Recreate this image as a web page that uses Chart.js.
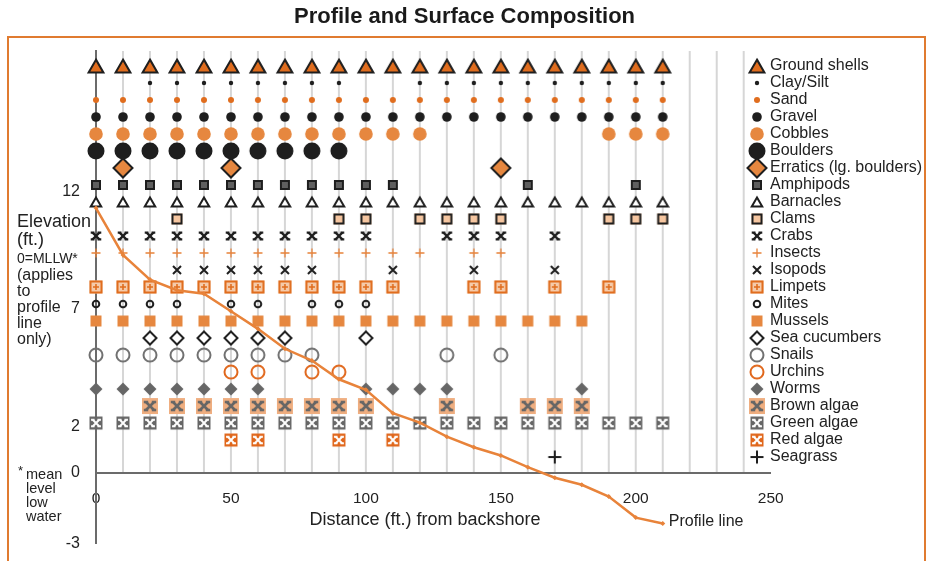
<!DOCTYPE html>
<html>
<head>
<meta charset="utf-8">
<script src="https://cdn.jsdelivr.net/npm/chart.js@4.4.1/dist/chart.umd.min.js"></script>
<style>
  html, body { margin: 0; padding: 0; background: #fff; }
  #wrap { position: relative; width: 929px; height: 561px; overflow: hidden; }
  #chart { position: absolute; left: 0; top: 0; }
  #frame { position: absolute; left: 7px; top: 36px; width: 919px; height: 600px; box-sizing: border-box; border: 2px solid #e07b30; pointer-events: none; }
  #title { position: absolute; left: 0; top: 3px; width: 929px; text-align: center; font: bold 22px "Liberation Sans", Arial, sans-serif; color: #1a1a1a; }
</style>
</head>
<body>
<div id="wrap">
  <canvas id="chart" width="929" height="561"></canvas>
  <div id="frame"></div>
  <div id="title">Profile and Surface Composition</div>
</div>
<script>
// profile line
const distances = [0, 10, 20, 30, 40, 50, 60, 70, 80, 90, 100, 110, 120, 130, 140, 150, 160, 170, 180, 190, 200, 210];
const profileElevation = [11.3, 9.3, 8.25, 7.8, 7.65, 6.9, 6.15, 5.3, 4.8, 4.0, 3.55, 2.55, 2.15, 1.55, 1.1, 0.75, 0.25, -0.2, -0.5, -1.0, -1.9, -2.15];
const elevationTicks = [-3, 0, 2, 7, 12];

// where each thing was found (distance in ft.)
const groundShells = [0, 10, 20, 30, 40, 50, 60, 70, 80, 90, 100, 110, 120, 130, 140, 150, 160, 170, 180, 190, 200, 210];
const claySilt = [20, 30, 40, 50, 60, 70, 80, 90, 120, 130, 140, 150, 160, 170, 180, 190, 200, 210];
const sand = [0, 10, 20, 30, 40, 50, 60, 70, 80, 90, 100, 110, 120, 130, 140, 150, 160, 170, 180, 190, 200, 210];
const gravel = [0, 10, 20, 30, 40, 50, 60, 70, 80, 90, 100, 110, 120, 130, 140, 150, 160, 170, 180, 190, 200, 210];
const cobbles = [0, 10, 20, 30, 40, 50, 60, 70, 80, 90, 100, 110, 120, 190, 200, 210];
const boulders = [0, 10, 20, 30, 40, 50, 60, 70, 80, 90];
const erratics = [10, 50, 150];
const amphipods = [0, 10, 20, 30, 40, 50, 60, 70, 80, 90, 100, 110, 160, 200];
const barnacles = [0, 10, 20, 30, 40, 50, 60, 70, 80, 90, 100, 110, 120, 130, 140, 150, 160, 170, 180, 190, 200, 210];
const clams = [30, 90, 100, 120, 130, 140, 150, 190, 200, 210];
const crabs = [0, 10, 20, 30, 40, 50, 60, 70, 80, 90, 100, 130, 140, 150, 170];
const insects = [0, 10, 20, 30, 40, 50, 60, 70, 80, 90, 100, 110, 120, 140, 150];
const isopods = [30, 40, 50, 60, 70, 80, 110, 140, 170];
const limpets = [0, 10, 20, 30, 40, 50, 60, 70, 80, 90, 100, 110, 140, 150, 170, 190];
const mites = [0, 10, 20, 30, 50, 60, 80, 90, 100];
const mussels = [0, 10, 20, 30, 40, 50, 60, 70, 80, 90, 100, 110, 120, 130, 140, 150, 160, 170, 180];
const seaCucumbers = [20, 30, 40, 50, 60, 70, 100];
const snails = [0, 10, 20, 30, 40, 50, 60, 70, 80, 130, 150];
const urchins = [50, 60, 80, 90];
const worms = [0, 10, 20, 30, 40, 50, 60, 100, 110, 120, 130, 180];
const brownAlgae = [20, 30, 40, 50, 60, 70, 80, 90, 100, 130, 160, 170, 180];
const greenAlgae = [0, 10, 20, 30, 40, 50, 60, 70, 80, 90, 100, 110, 120, 130, 140, 150, 160, 170, 180, 190, 200, 210];
const redAlgae = [50, 60, 90, 110];
const seagrass = [170];

const FONT = '"Liberation Sans", Arial, sans-serif';
const INK = '#1e1e1e';
const ORANGE = '#e06d1e';
const LIGHT_ORANGE = '#e6873f';
const GRAY = '#666666';

// ---- symbol images
function sym(w, draw) {
  const c = document.createElement('canvas');
  c.width = w; c.height = w;
  const g = c.getContext('2d');
  draw(g, w / 2, w / 2);
  return c;
}
function dot(g, cx, cy, r, fill) {
  g.beginPath(); g.arc(cx, cy, r, 0, Math.PI * 2); g.fillStyle = fill; g.fill();
}
function ring(g, cx, cy, r, stroke, lw) {
  g.beginPath(); g.arc(cx, cy, r, 0, Math.PI * 2); g.strokeStyle = stroke; g.lineWidth = lw; g.stroke();
}
function tri(g, cx, cy, r, fill, stroke, lw) {
  const h = r * 0.75;
  g.beginPath();
  g.moveTo(cx, cy - h);
  g.lineTo(cx + r * 0.87, cy + h);
  g.lineTo(cx - r * 0.87, cy + h);
  g.closePath();
  g.fillStyle = fill; g.fill();
  g.lineJoin = 'miter'; g.strokeStyle = stroke; g.lineWidth = lw; g.stroke();
}
function diamond(g, cx, cy, r, fill, stroke, lw) {
  g.beginPath();
  g.moveTo(cx, cy - r); g.lineTo(cx + r, cy); g.lineTo(cx, cy + r); g.lineTo(cx - r, cy);
  g.closePath();
  g.fillStyle = fill; g.fill();
  if (stroke) { g.strokeStyle = stroke; g.lineWidth = lw; g.stroke(); }
}
function square(g, cx, cy, side, fill, stroke, lw) {
  g.fillStyle = fill;
  g.fillRect(cx - side / 2, cy - side / 2, side, side);
  if (stroke) { g.strokeStyle = stroke; g.lineWidth = lw; g.strokeRect(cx - side / 2 + lw / 2, cy - side / 2 + lw / 2, side - lw, side - lw); }
}
function plus(g, cx, cy, s, stroke, lw) {
  g.beginPath();
  g.moveTo(cx - s, cy); g.lineTo(cx + s, cy);
  g.moveTo(cx, cy - s); g.lineTo(cx, cy + s);
  g.strokeStyle = stroke; g.lineWidth = lw; g.stroke();
}
function cross(g, cx, cy, s, stroke, lw) {
  g.beginPath();
  g.moveTo(cx - s, cy - s); g.lineTo(cx + s, cy + s);
  g.moveTo(cx + s, cy - s); g.lineTo(cx - s, cy + s);
  g.strokeStyle = stroke; g.lineWidth = lw; g.stroke();
}
// an x whose four arms end in short flat serifs
function glyph(g, cx, cy, s, stroke, lw) {
  cross(g, cx, cy, s, stroke, lw);
  const k = s * 0.55;
  g.beginPath();
  [[-1, -1], [1, -1], [-1, 1], [1, 1]].forEach(([dx, dy]) => {
    g.moveTo(cx + dx * s - k, cy + dy * s);
    g.lineTo(cx + dx * s + k, cy + dy * s);
  });
  g.strokeStyle = stroke; g.lineWidth = lw; g.stroke();
}

const symbols = {
  groundShells: sym(20, (g, x, y) => tri(g, x, y, 8.5, ORANGE, INK, 2)),
  claySilt: sym(8, (g, x, y) => dot(g, x, y, 2.2, INK)),
  sand: sym(8, (g, x, y) => dot(g, x, y, 3, ORANGE)),
  gravel: sym(12, (g, x, y) => dot(g, x, y, 4.8, INK)),
  cobbles: sym(16, (g, x, y) => dot(g, x, y, 6.8, LIGHT_ORANGE)),
  boulders: sym(20, (g, x, y) => dot(g, x, y, 8.5, INK)),
  erratics: sym(24, (g, x, y) => diamond(g, x, y, 9.5, LIGHT_ORANGE, INK, 2)),
  amphipods: sym(12, (g, x, y) => square(g, x, y, 10, '#5f5f5f', INK, 2)),
  barnacles: sym(14, (g, x, y) => tri(g, x, y, 6, '#fff', INK, 2)),
  clams: sym(14, (g, x, y) => square(g, x, y, 11, '#f6c6a0', INK, 2)),
  crabs: sym(12, (g, x, y) => glyph(g, x, y, 3.4, INK, 2.2)),
  insects: sym(12, (g, x, y) => plus(g, x, y, 4.5, '#e8833a', 1.3)),
  isopods: sym(12, (g, x, y) => cross(g, x, y, 4, INK, 2)),
  limpets: sym(16, (g, x, y) => { square(g, x, y, 13, '#f5cbaa', ORANGE, 2); plus(g, x, y, 3, ORANGE, 1.6); }),
  mites: sym(10, (g, x, y) => ring(g, x, y, 3.3, INK, 2)),
  mussels: sym(14, (g, x, y) => square(g, x, y, 11, LIGHT_ORANGE)),
  seaCucumbers: sym(16, (g, x, y) => diamond(g, x, y, 6.5, '#fff', INK, 2)),
  snails: sym(18, (g, x, y) => ring(g, x, y, 6.5, '#707070', 2)),
  urchins: sym(18, (g, x, y) => ring(g, x, y, 6.5, '#e0661a', 2)),
  worms: sym(16, (g, x, y) => diamond(g, x, y, 6.5, GRAY)),
  brownAlgae: sym(18, (g, x, y) => { square(g, x, y, 16, '#efae80'); glyph(g, x, y, 4, GRAY, 2.6); }),
  greenAlgae: sym(16, (g, x, y) => { square(g, x, y, 13, GRAY); glyph(g, x, y, 3.2, '#fff', 2); }),
  redAlgae: sym(16, (g, x, y) => { square(g, x, y, 13, '#e0661a'); glyph(g, x, y, 3.2, '#fff', 2); }),
  seagrass: sym(16, (g, x, y) => plus(g, x, y, 6.5, INK, 2)),
};

const rows = [
  ['Ground shells', groundShells, symbols.groundShells],
  ['Clay/Silt', claySilt, symbols.claySilt],
  ['Sand', sand, symbols.sand],
  ['Gravel', gravel, symbols.gravel],
  ['Cobbles', cobbles, symbols.cobbles],
  ['Boulders', boulders, symbols.boulders],
  ['Erratics (lg. boulders)', erratics, symbols.erratics],
  ['Amphipods', amphipods, symbols.amphipods],
  ['Barnacles', barnacles, symbols.barnacles],
  ['Clams', clams, symbols.clams],
  ['Crabs', crabs, symbols.crabs],
  ['Insects', insects, symbols.insects],
  ['Isopods', isopods, symbols.isopods],
  ['Limpets', limpets, symbols.limpets],
  ['Mites', mites, symbols.mites],
  ['Mussels', mussels, symbols.mussels],
  ['Sea cucumbers', seaCucumbers, symbols.seaCucumbers],
  ['Snails', snails, symbols.snails],
  ['Urchins', urchins, symbols.urchins],
  ['Worms', worms, symbols.worms],
  ['Brown algae', brownAlgae, symbols.brownAlgae],
  ['Green algae', greenAlgae, symbols.greenAlgae],
  ['Red algae', redAlgae, symbols.redAlgae],
  ['Seagrass', seagrass, symbols.seagrass],
];

const datasets = [{
  type: 'line',
  label: 'Profile line',
  data: distances.map((d, i) => ({ x: d, y: profileElevation[i] })),
  yAxisID: 'y',
  borderColor: '#e8833a',
  borderWidth: 2.5,
  pointStyle: 'rectRot',
  pointRadius: 2.5,
  pointBackgroundColor: '#e8833a',
  pointBorderWidth: 0,
  tension: 0,
  clip: false,
}];
rows.forEach(([label, xs, img], i) => {
  datasets.push({
    type: 'scatter',
    label: label,
    data: xs.map(d => ({ x: d, y: i })),
    yAxisID: 'yr',
    pointStyle: img,
    pointRadius: 5,
    clip: false,
  });
});

function text(ctx, str, x, y, size, align) {
  ctx.font = size + 'px ' + FONT;
  ctx.textAlign = align || 'left';
  ctx.textBaseline = 'middle';
  ctx.fillText(str, x, y);
}

const extras = {
  id: 'extras',
  beforeDraw(chart) {
    // column lines, stopping at the 0 line
    const { ctx, chartArea, scales: { x, y } } = chart;
    const y0 = y.getPixelForValue(0);
    ctx.save();
    ctx.strokeStyle = '#d6d6d6';
    ctx.lineWidth = 2;
    for (let v = 10; v < x.max; v += 10) {
      const px = x.getPixelForValue(v);
      ctx.beginPath(); ctx.moveTo(px, chartArea.top); ctx.lineTo(px, y0); ctx.stroke();
    }
    ctx.restore();
  },
  afterDraw(chart) {
    const { ctx, scales: { yr } } = chart;
    ctx.save();
    ctx.fillStyle = '#222';
    // legend
    rows.forEach(([label, xs, img], i) => {
      const py = yr.getPixelForValue(i);
      ctx.drawImage(img, 757 - img.width / 2, py - img.height / 2);
      text(ctx, label, 770, py, 16);
    });
    // left notes
    text(ctx, 'Elevation', 17, 222, 18);
    text(ctx, '(ft.)', 17, 240, 18);
    text(ctx, '0=MLLW*', 17, 259, 14);
    ['(applies', 'to', 'profile', 'line', 'only)'].forEach((s, i) => text(ctx, s, 17, 276 + i * 16, 16));
    text(ctx, '*', 18, 471, 13);
    ['mean', 'level', 'low', 'water'].forEach((s, i) => text(ctx, s, 26, 475 + i * 14, 14.5));
    // axis title and line label
    text(ctx, 'Distance (ft.) from backshore', 425, 520, 18, 'center');
    const line = chart.getDatasetMeta(0).data;
    const last = line[line.length - 1];
    text(ctx, 'Profile line', last.x + 6, last.y - 2, 16);
    ctx.restore();
  }
};

new Chart(document.getElementById('chart'), {
  type: 'scatter',
  data: { datasets: datasets },
  options: {
    responsive: false,
    animation: false,
    layout: { padding: { left: 0, top: 51, right: 158.3, bottom: 16.5 } },
    plugins: { legend: { display: false }, tooltip: { enabled: false } },
    scales: {
      x: {
        type: 'linear',
        min: 0,
        max: 250,
        position: { y: 0 },
        afterFit: s => { s.height = 0; },
        grid: { display: false },
        border: { display: true, color: '#6b6b6b', width: 2 },
        ticks: { stepSize: 50, padding: 8, color: '#222', font: { size: 15.5, family: FONT } },
      },
      y: {
        type: 'linear',
        position: 'left',
        min: -3,
        max: 18,
        afterBuildTicks: s => { s.ticks = elevationTicks.map(v => ({ value: v })); },
        afterFit: s => { s.width = 96; },
        grid: { display: false },
        border: { display: true, color: '#6b6b6b', width: 2 },
        ticks: { padding: 8, color: '#222', font: { size: 16, family: FONT } },
      },
      yr: {
        type: 'linear',
        display: false,
        reverse: true,
        min: -0.88,
        max: 28.08,
      },
    },
  },
  plugins: [extras],
});
</script>
</body>
</html>
